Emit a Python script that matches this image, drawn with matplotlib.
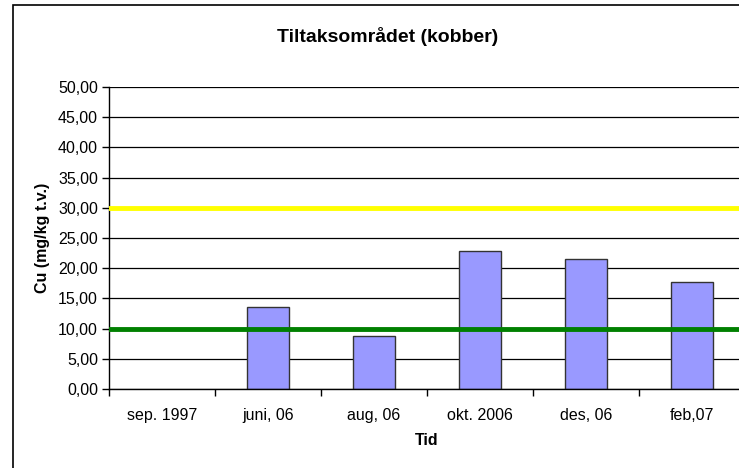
import numpy as np
import matplotlib.pyplot as plt
from matplotlib.patches import Rectangle
from matplotlib.ticker import FuncFormatter

plt.rcParams['font.family'] = ['Liberation Sans', 'DejaVu Sans']

kategorier = ['sep. 1997', 'juni, 06', 'aug, 06', 'okt. 2006', 'des, 06', 'feb,07']
cu = [np.nan, 13.6, 8.8, 22.8, 21.6, 17.7]
grense_gronn = 10.0  # grønn grense
grense_gul = 30.0    # gul grense

fig = plt.figure(figsize=(7.39, 4.68), dpi=100)
ax = fig.add_axes([109/739, 1 - 389/468, 636/739, 302/468])

# ramme rundt diagrammet
fig.patches.append(Rectangle((13/739, -0.1), 1.2, 1.1 - 5/468, transform=fig.transFigure,
                             fill=False, edgecolor='black', linewidth=1.2))

x = np.arange(len(kategorier))
ax.set_axisbelow(True)
ax.yaxis.grid(True, color='black', linewidth=0.9)
ax.bar(x, cu, width=0.4, color='#9999ff', edgecolor='#333333', linewidth=1.0, zorder=2)
ax.axhline(grense_gul, color='#ffff00', linewidth=3.5, zorder=3)
ax.axhline(grense_gronn, color='#008000', linewidth=3.5, zorder=3)

ax.set_xlim(-0.5, len(kategorier) - 0.5)
ax.set_ylim(0, 50)
ax.set_yticks(np.arange(0, 51, 5))
ax.yaxis.set_major_formatter(FuncFormatter(lambda v, p: f'{v:.2f}'.replace('.', ',')))
ax.set_xticks(x)
ax.set_xticklabels(kategorier)
ax.set_xticks(np.arange(-0.5, len(kategorier)), minor=True)
ax.tick_params(axis='x', which='major', length=0, pad=14, labelsize=11.5)
ax.tick_params(axis='x', which='minor', length=5, width=1, direction='out')
ax.tick_params(axis='y', length=5, width=1, labelsize=11.5, pad=3)

for s in ['top', 'right']:
    ax.spines[s].set_visible(False)
for s in ['left', 'bottom']:
    ax.spines[s].set_linewidth(1.0)

ax.set_ylabel('Cu (mg/kg t.v.)', fontweight='bold', fontsize=11.5, labelpad=6)
ax.set_xlabel('Tid', fontweight='bold', fontsize=11.5, labelpad=7)
fig.text(388/739, 1 - 37/468, 'Tiltaksområdet (kobber)', ha='center', va='center',
         fontweight='bold', fontsize=14)

fig.savefig('out.png', dpi=100)
